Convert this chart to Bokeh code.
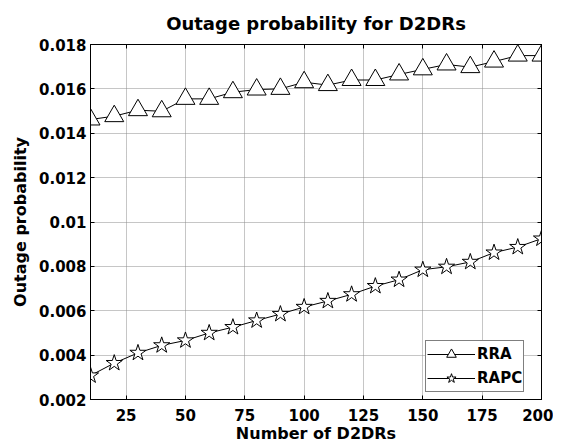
from bokeh.plotting import figure
from bokeh.models import FixedTicker, LinearAxis, Legend, LegendItem, Range1d
from bokeh.embed import file_html
from bokeh.resources import INLINE

# ---- data ----
n_d2drs = [10, 20, 30, 40, 50, 60, 70, 80, 90, 100,
           110, 120, 130, 140, 150, 160, 170, 180, 190, 200]
rra = [0.01462, 0.01477, 0.01504, 0.01499, 0.01555, 0.01555, 0.01585, 0.01597, 0.01600, 0.01630,
       0.01617, 0.01640, 0.01640, 0.01665, 0.01688, 0.01710, 0.01698, 0.01723, 0.01750, 0.01750]
rapc = [0.00308, 0.00364, 0.00410, 0.00444, 0.00466, 0.00500, 0.00526, 0.00556, 0.00585, 0.00617,
        0.00644, 0.00674, 0.00711, 0.00740, 0.00785, 0.00798, 0.00820, 0.00862, 0.00887, 0.00925]
x_ticks = [25, 50, 75, 100, 125, 150, 175, 200]
y_ticks = [0.002, 0.004, 0.006, 0.008, 0.01, 0.012, 0.014, 0.016, 0.018]
y_tick_labels = ["0.002", "0.004", "0.006", "0.008", "0.01", "0.012", "0.014", "0.016", "0.018"]
series_names = ["RRA", "RAPC"]

FONT = "DejaVu Sans"

p = figure(frame_width=451, frame_height=355,
           min_border_left=90, min_border_top=43, min_border_right=12, min_border_bottom=10,
           output_backend="svg", toolbar_location=None,
           x_range=Range1d(10, 200), y_range=Range1d(0.002, 0.018),
           title="Outage probability for D2DRs")

p.title.text_font = FONT
p.title.text_font_size = "18px"
p.title.text_font_style = "bold"
p.title.text_color = "black"
p.title.align = "center"
p.title.standoff = 21

p.outline_line_color = "black"
p.outline_line_width = 1
p.background_fill_color = "white"
p.border_fill_color = "white"

for ax in (p.xaxis[0], p.yaxis[0]):
    ax.major_label_text_font = FONT
    ax.major_label_text_font_size = "15px"
    ax.major_label_text_font_style = "bold"
    ax.major_label_text_color = "black"
    ax.axis_label_text_font = FONT
    ax.axis_label_text_font_size = "16px"
    ax.axis_label_text_font_style = "bold"
    ax.axis_label_text_color = "black"
    ax.major_tick_in = 4
    ax.major_tick_out = 0
    ax.minor_tick_line_color = None
    ax.axis_line_color = "black"
    ax.major_tick_line_color = "black"

p.xaxis[0].ticker = FixedTicker(ticks=x_ticks)
p.yaxis[0].ticker = FixedTicker(ticks=y_ticks)
p.yaxis[0].major_label_overrides = dict(zip(y_ticks, y_tick_labels))
p.xaxis[0].axis_label = "Number of D2DRs"
p.yaxis[0].axis_label = "Outage probability"
p.xaxis[0].major_label_standoff = 9
p.xaxis[0].axis_label_standoff = 0
p.yaxis[0].major_label_standoff = 4
p.yaxis[0].axis_label_standoff = 6

# box-style ticks on top and right (no labels)
top_ax = LinearAxis(ticker=FixedTicker(ticks=x_ticks), major_label_text_color=None,
                    major_tick_in=4, major_tick_out=0, minor_tick_line_color=None,
                    major_label_standoff=0)
right_ax = LinearAxis(ticker=FixedTicker(ticks=y_ticks), major_label_text_color=None,
                      major_tick_in=4, major_tick_out=0, minor_tick_line_color=None,
                      major_label_standoff=0)
p.add_layout(top_ax, "above")
p.add_layout(right_ax, "right")

p.xgrid.ticker = FixedTicker(ticks=x_ticks)
p.ygrid.ticker = FixedTicker(ticks=y_ticks)
for g in (p.xgrid[0], p.ygrid[0]):
    g.grid_line_color = "#8c8c8c"
    g.grid_line_dash = "1 1"
    g.grid_line_width = 1

l1 = p.line(n_d2drs, rra, line_color="black", line_width=1)
m1 = p.scatter(n_d2drs, rra, marker="triangle", size=19, fill_color="white",
               line_color="black", line_width=1)
l2 = p.line(n_d2drs, rapc, line_color="black", line_width=1)
m2 = p.scatter(n_d2drs, rapc, marker="star", size=17, fill_color="white",
               line_color="black", line_width=1)

legend = Legend(items=[LegendItem(label=series_names[0], renderers=[l1, m1]),
                       LegendItem(label=series_names[1], renderers=[l2, m2])],
                location=(335, 7))
legend.label_text_font = FONT
legend.label_text_font_size = "15px"
legend.label_text_font_style = "bold"
legend.label_text_color = "black"
legend.border_line_color = "black"
legend.border_line_width = 1
legend.background_fill_alpha = 1
legend.glyph_width = 48
legend.glyph_height = 24
legend.label_height = 24
legend.padding = 1
legend.spacing = 0
legend.label_standoff = 2
legend.margin = 0
p.add_layout(legend, "center")

open("out.html", "w").write(file_html(p, INLINE))
